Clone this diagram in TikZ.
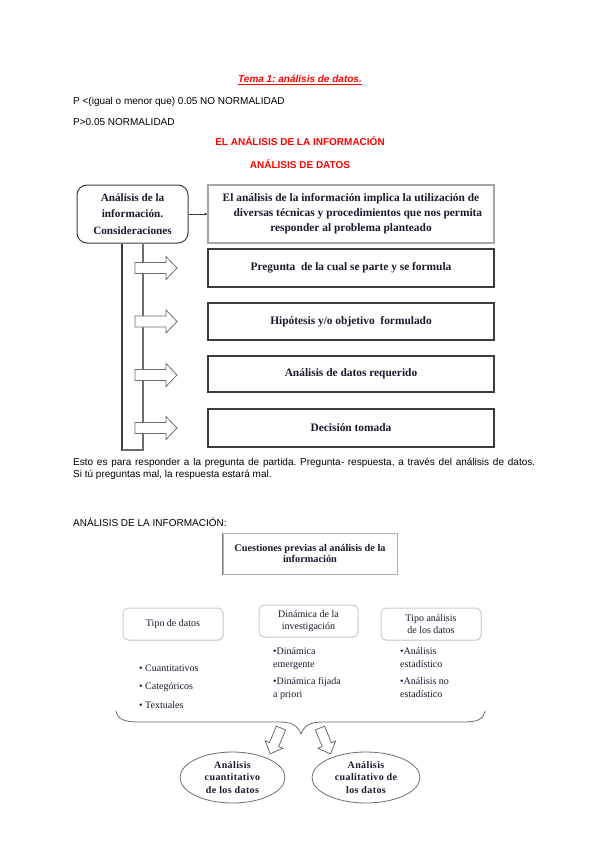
\documentclass[tikz,border=0pt]{standalone}
\usepackage{fontspec}
\setmainfont{Liberation Serif}
\newfontfamily\arialfont{Liberation Sans}
\usetikzlibrary{arrows.meta,shapes.geometric,shadows}
\frenchspacing
\definecolor{ink}{RGB}{25,25,45}
\definecolor{darkline}{RGB}{60,60,60}
\definecolor{midline}{RGB}{110,110,110}
\definecolor{lightline}{RGB}{205,205,205}
\newcommand\blkarrow[7]{%
  \draw[blockarr,shift={(#1,#2)},rotate=#3] (0,-#6) -- (#4-#5,-#6) -- (#4-#5,-#7) -- (#4,0) -- (#4-#5,#7) -- (#4-#5,#6) -- (0,#6) -- cycle;}
\begin{document}
\begin{tikzpicture}[x=1pt,y=-1pt,
  body/.style={inner sep=0pt,anchor=base west,font=\arialfont\fontsize{10}{12}\selectfont},
  redhead/.style={inner sep=0pt,anchor=base,text=red,font=\arialfont\bfseries\fontsize{10}{12}\selectfont},
  boxtxt/.style={font=\bfseries\fontsize{11.4}{15}\selectfont,text=ink,align=center,inner sep=0pt},
  mainbox/.style={boxtxt,draw=darkline,line width=1.1pt,minimum width=286pt},
  roundbox/.style={boxtxt,draw=darkline,line width=1pt,rounded corners=10pt,minimum width=111pt,minimum height=58pt,font=\bfseries\fontsize{11.2}{16.5}\selectfont},
  softbox/.style={draw=lightline,line width=1pt,rounded corners=5pt,minimum width=100pt,minimum height=32pt,inner sep=0pt,align=center,text=ink,font=\fontsize{10}{12}\selectfont,fill=white,drop shadow={shadow xshift=0.6pt,shadow yshift=-0.9pt,opacity=0.18}},
  listtxt/.style={inner sep=0pt,anchor=base west,align=left,text=ink,font=\fontsize{10}{13}\selectfont},
  ell/.style={ellipse,draw=midline,line width=0.8pt,minimum width=105pt,minimum height=51pt,inner sep=0pt,align=center,text=ink,font=\bfseries\addfontfeature{LetterSpace=4}\fontsize{10}{12.8}\selectfont},
  blockarr/.style={draw=midline,fill=white,line width=0.8pt,line join=miter}
]
\useasboundingbox (0,0) rectangle (599,848);
\fill[white] (0,0) rectangle (599,848);

% headings
\node[inner sep=0pt,anchor=base,text=red,font=\arialfont\bfseries\itshape\fontsize{10}{12}\selectfont] (tema) at (300,83) {Tema 1: análisis de datos.};
\draw[red,line width=0.6pt] ([yshift=-1.6pt]tema.base west) -- ([yshift=-1.6pt]tema.base east);
\node[body] (p1) at (73,104.5) {P <(igual o menor que) 0.05 NO NORMALIDAD};
\node[body] (p2) at (73,125.5) {P>0.05 NORMALIDAD};
\node[redhead] (h1) at (300,146) {EL ANÁLISIS DE LA INFORMACIÓN};
\node[redhead] (h2) at (300,168) {ANÁLISIS DE DATOS};

% diagram 1
\node[roundbox] (rbox) at (132.5,214) {Análisis de la\\información.\\Consideraciones};
\node[boxtxt,draw=gray!70,line width=1.2pt,minimum width=286pt,minimum height=58pt] (top) at (351,214)
  {El análisis de la información implica la utilización de\\\hspace*{1.2em}diversas técnicas y procedimientos que nos permita\\responder al problema planteado};
\node[mainbox,minimum height=38pt] (b2) at (351,268) {Pregunta~ de la cual se parte y se formula};
\node[mainbox,minimum height=37pt] (b3) at (351,321.5) {Hipótesis y/o objetivo~ formulado};
\node[mainbox,minimum height=36pt] (b4) at (351,374) {Análisis de datos requerido};
\node[mainbox,minimum height=38pt] (b5) at (351,428) {Decisión tomada};
\draw[-{Stealth[length=3pt,width=3pt]},darkline,line width=0.7pt] (rbox.east) -- (top.west);

\coordinate (v1) at (122,450);
\coordinate (v2) at (143,450);
\draw[darkline,line width=1.1pt] (rbox.south -| v1) -- (v1) -- (v2);
\draw[midline,line width=1.3pt] (v1) -- (v2) -- (rbox.south -| v2);
\blkarrow{135}{268}{0}{42}{11}{5.5}{11.5}
\blkarrow{135}{321.5}{0}{42}{11}{5.5}{11.5}
\blkarrow{135}{375}{0}{42}{11}{5.5}{11.5}
\blkarrow{135}{428}{0}{42}{11}{5.5}{11.5}

% text between
\node[body] (t1) at (73,465.5) {\makebox[462pt][s]{Esto es para responder a la pregunta de partida. Pregunta- respuesta, a través del análisis de datos.}};
\node[body] (t2) at (73,477.5) {Si tú preguntas mal, la respuesta estará mal.};
\node[body] (t3) at (73,526.5) {ANÁLISIS DE LA INFORMACIÓN:};

% diagram 2
\node[draw=gray!60,line width=1pt,minimum width=174pt,minimum height=41pt,inner sep=0pt,align=center,text=ink,font=\bfseries\fontsize{10.3}{11.5}\selectfont] (cq) at (310,553.5) {Cuestiones previas al análisis de la\\información};
\draw[gray,line width=1.2pt] (cq.south west) -- (cq.north west);
\node[softbox] (s1) at (173,624) {Tipo de datos};
\node[softbox,minimum width=99pt] (s2) at (308.5,621) {Dinámica de la\\investigación};
\node[softbox] (s3) at (431,624) {Tipo análisis\\de los datos};

\node[listtxt] (l11) at (139,671.5) {• Cuantitativos};
\node[listtxt] (l12) at (139,689.5) {• Categóricos};
\node[listtxt] (l13) at (139,708.5) {• Textuales};
\node[listtxt] (l21) at (273,667.5) {•Dinámica\\emergente};
\node[listtxt] (l22) at (273,697.5) {•Dinámica fijada\\a priori};
\node[listtxt] (l31) at (400,667.5) {•Análisis\\estadístico};
\node[listtxt] (l32) at (400,697.5) {•Análisis no\\estadístico};

\coordinate (brL) at (116,711);
\coordinate (brC) at (301,734);
\coordinate (brR) at (485,711);
\draw[midline,line width=0.8pt] (brL) .. controls (118,720) and (125,722) .. (140,722) -- (280,722)
  .. controls (292,722) and (298,726) .. (brC) .. controls (304,726) and (310,722) .. (322,722)
  -- (462,722) .. controls (477,722) and (483,720) .. (brR);

\blkarrow{281}{728}{-112.9}{28}{10}{5}{9.5}
\blkarrow{320}{728}{-67.8}{28}{10}{5}{9.5}

\node[ell] (e1) at (232.5,777.5) {Análisis\\cuantitativo\\de los datos};
\node[ell,minimum width=108pt] (e2) at (366,777.5) {Análisis\\cualitativo de\\los datos};
\end{tikzpicture}
\end{document}
